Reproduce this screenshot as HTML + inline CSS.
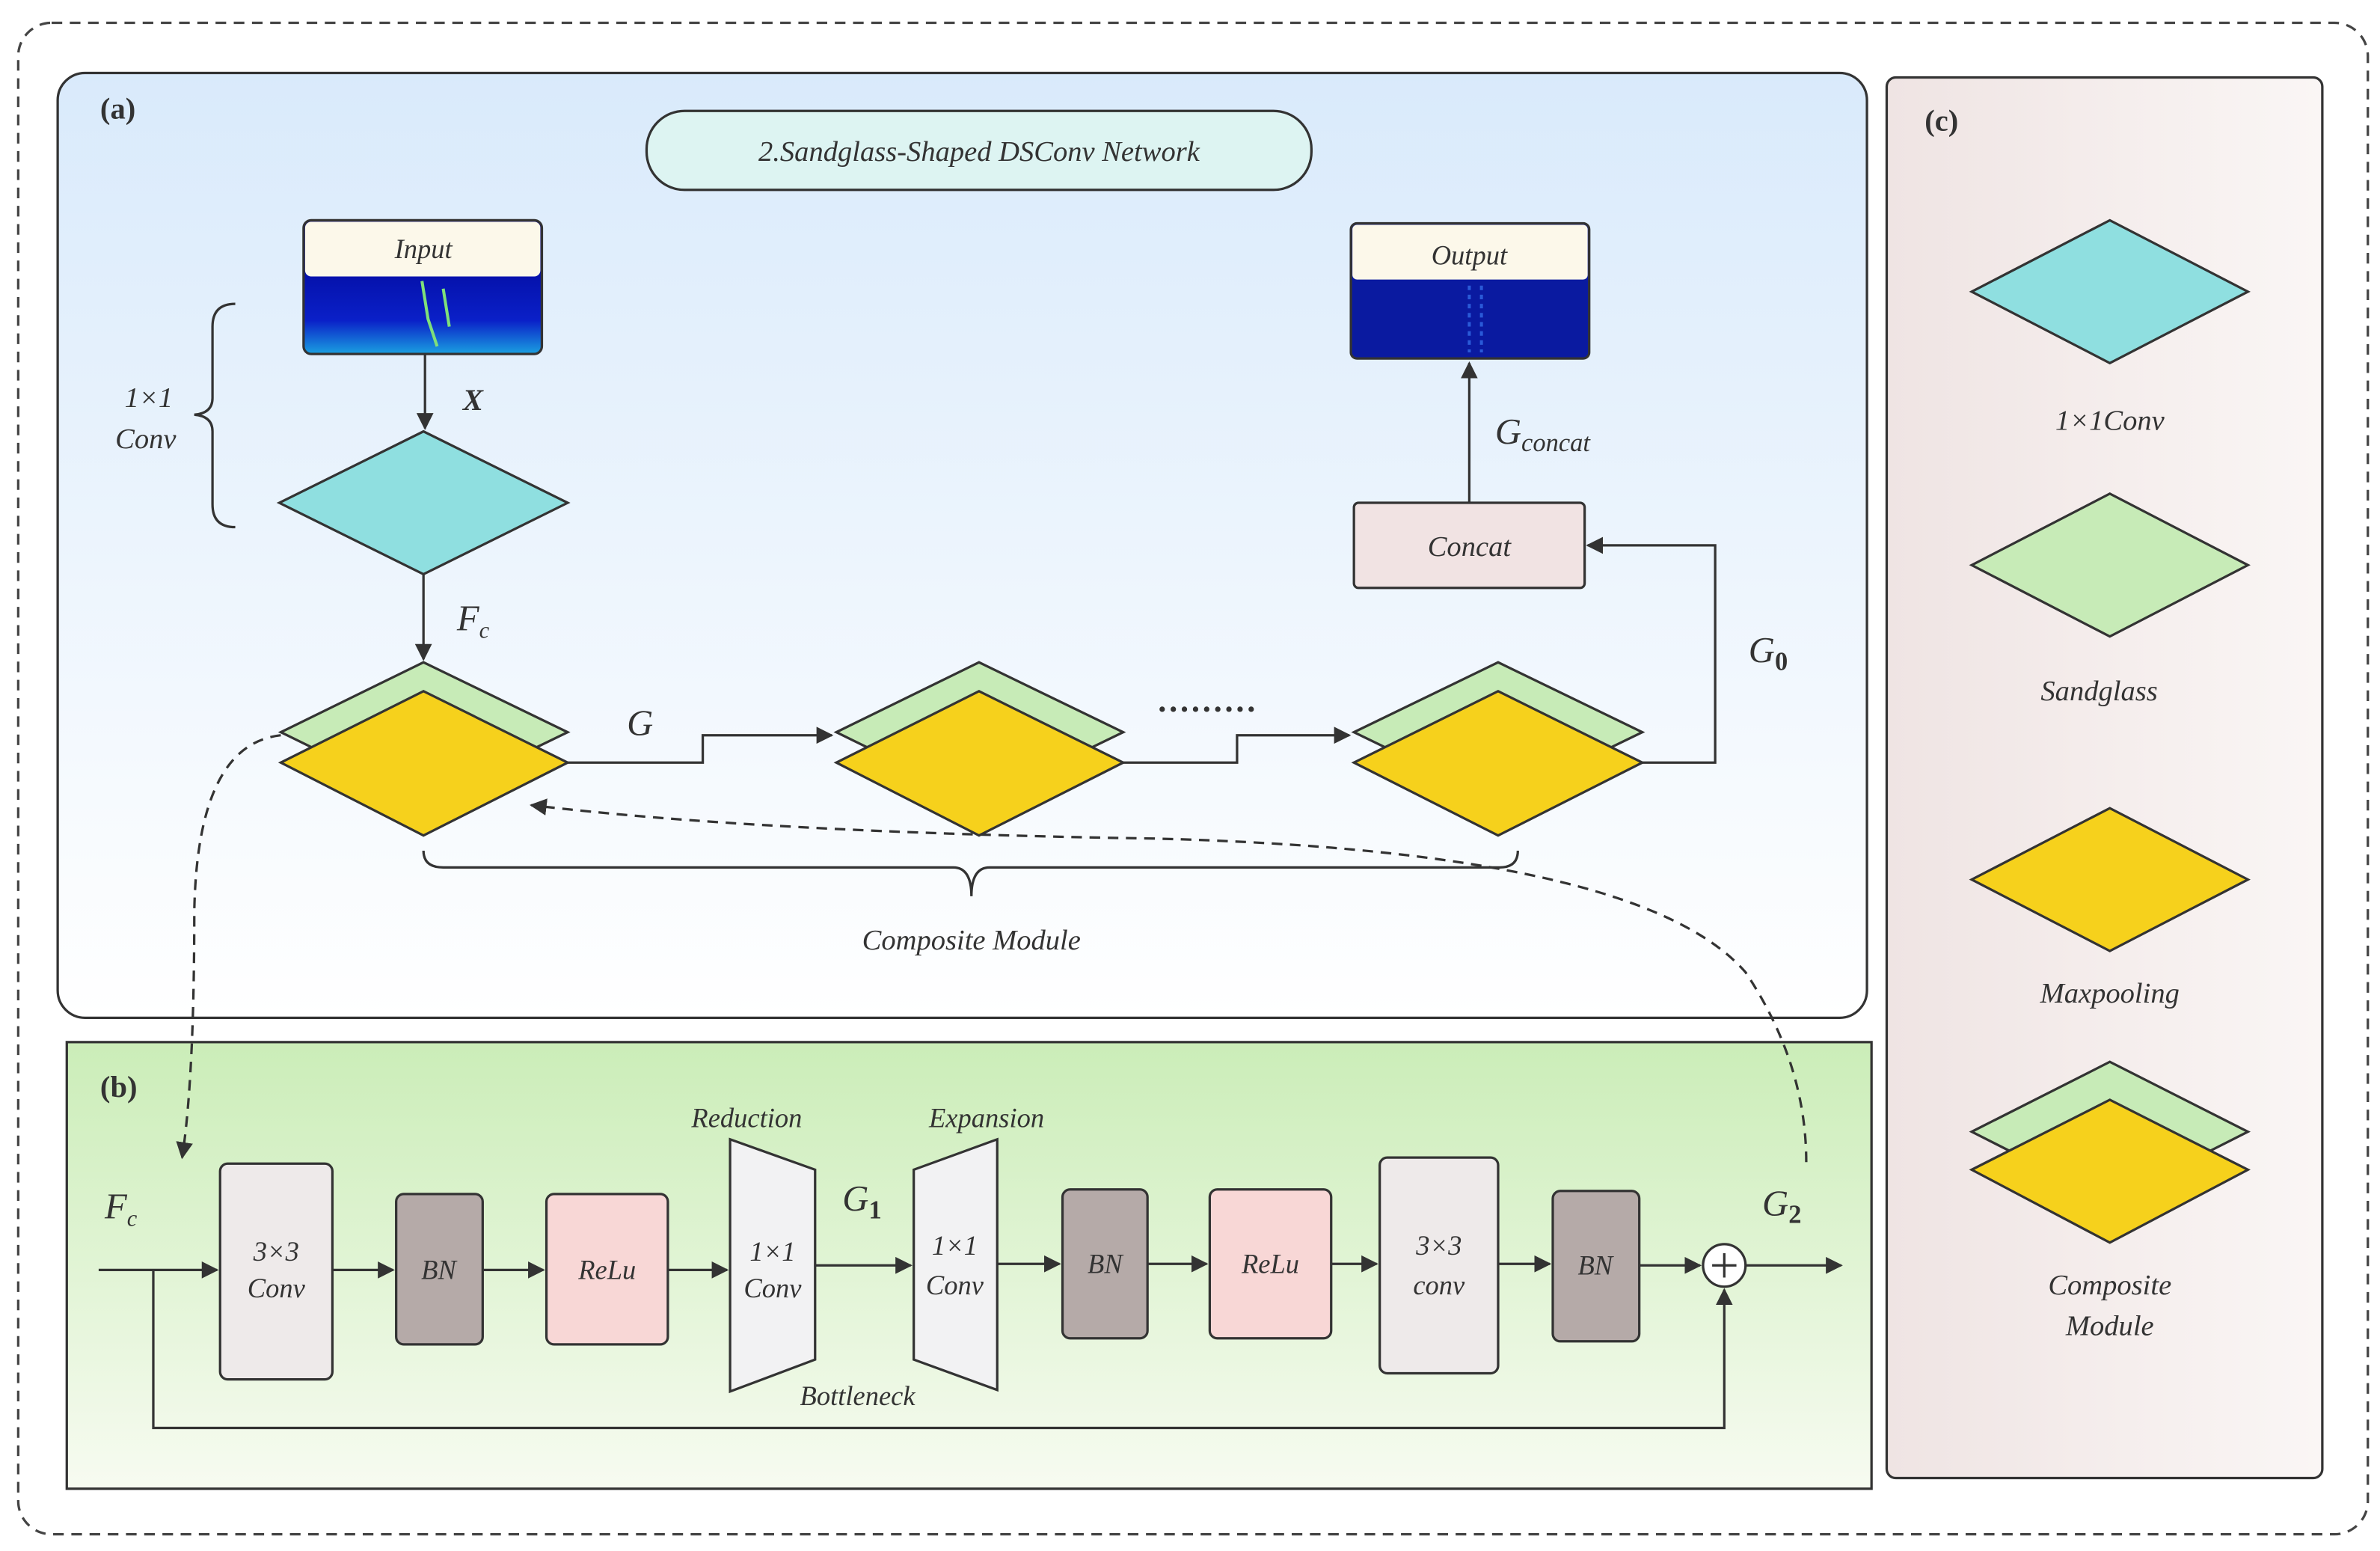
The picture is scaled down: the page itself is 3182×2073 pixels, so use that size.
<!DOCTYPE html>
<html><head><style>
html,body{margin:0;padding:0;background:#fff;}
svg{display:block;}
svg text, svg tspan{font-family:"Liberation Serif","DejaVu Serif",serif;font-style:italic;fill:#333;}
</style></head><body>
<svg width="3182" height="2073" viewBox="0 0 1568 1021" preserveAspectRatio="none" xmlns="http://www.w3.org/2000/svg" font-family="Liberation Serif, DejaVu Serif, serif">
<defs>
<linearGradient id="ga" x1="0" y1="0" x2="0" y2="1"><stop offset="0" stop-color="#d9eafb"/><stop offset="1" stop-color="#ffffff"/></linearGradient>
<linearGradient id="gb" x1="0" y1="0" x2="0" y2="1"><stop offset="0" stop-color="#cbedb8"/><stop offset="1" stop-color="#f7fbf1"/></linearGradient>
<linearGradient id="gc" x1="0" y1="0" x2="1" y2="0"><stop offset="0" stop-color="#efe4e3"/><stop offset="1" stop-color="#faf6f5"/></linearGradient>
<linearGradient id="spec" x1="0" y1="0" x2="0" y2="1"><stop offset="0" stop-color="#00008a"/><stop offset="0.75" stop-color="#0a20c8"/><stop offset="1" stop-color="#1aa0e0"/></linearGradient>
<marker id="ar" viewBox="0 0 10 10" refX="9" refY="5" markerWidth="7" markerHeight="7" orient="auto"><path d="M0,0 L10,5 L0,10 z" fill="#333"/></marker>
</defs>
<rect x="12" y="15" width="1548" height="995" rx="22" fill="#fff" stroke="#444" stroke-width="1.6" stroke-dasharray="7,5"/>
<rect x="38" y="48" width="1192" height="622" rx="18" fill="url(#ga)" stroke="#333" stroke-width="1.6"/>
<text x="66" y="78" font-size="20" style="font-style:normal;font-weight:bold">(a)</text>
<rect x="426" y="73" width="438" height="52" rx="25" fill="#ddf4f2" stroke="#333" stroke-width="1.6"/>
<text x="645" y="106" font-size="19" text-anchor="middle">2.Sandglass-Shaped DSConv Network</text>
<rect x="200" y="145" width="157" height="88" rx="5" fill="url(#spec)" stroke="#333" stroke-width="1.6"/>
<rect x="201" y="146" width="155" height="36" rx="4" fill="#fcf8ea"/>
<path d="M278,185 L282,210 L288,228 M292,190 L296,215" stroke="#7fe07a" stroke-width="2" fill="none"/>
<text x="279" y="170" font-size="18" text-anchor="middle">Input</text>
<rect x="890" y="147" width="157" height="89" rx="4" fill="#0a1aa0" stroke="#333" stroke-width="1.6"/>
<rect x="891" y="148" width="155" height="36" rx="3" fill="#fcf8ea"/>
<path d="M968,188 V232 M976,188 V232" stroke="#2a5ad8" stroke-width="2" stroke-dasharray="3,3"/>
<text x="968" y="174" font-size="18" text-anchor="middle">Output</text>
<path d="M155,200 Q140,200 140,215 L140,262 Q140,272 128,273 Q140,274 140,284 L140,332 Q140,347 155,347" fill="none" stroke="#333" stroke-width="1.6"/>
<text x="98" y="268" font-size="19" text-anchor="middle">1×1</text>
<text x="96" y="295" font-size="19" text-anchor="middle">Conv</text>
<line x1="280" y1="233" x2="280" y2="282" stroke="#333" stroke-width="1.6" marker-end="url(#ar)"/>
<text x="305" y="270" font-size="20" style="font-weight:bold">X</text>
<polygon points="184,331 279,284 374,331 279,378" fill="#8fdfe0" stroke="#333" stroke-width="1.6"/>
<line x1="279" y1="378" x2="279" y2="434" stroke="#333" stroke-width="1.6" marker-end="url(#ar)"/>
<text x="301" y="415" font-size="24">F<tspan font-size="15" dy="5">c</tspan></text>
<g stroke="#333" stroke-width="1.6">
<polygon points="185,482 279,436 374,482 279,528" fill="#c7ebb7"/>
<polygon points="185,502 279,455 374,502 279,550" fill="#f6d11c"/>
<polygon points="551,482 645,436 740,482 645,528" fill="#c7ebb7"/>
<polygon points="551,502 645,455 740,502 645,550" fill="#f6d11c"/>
<polygon points="892,482 987,436 1082,482 987,528" fill="#c7ebb7"/>
<polygon points="892,502 987,455 1082,502 987,550" fill="#f6d11c"/>
</g>
<polyline points="374,502 463,502 463,484 548,484" fill="none" stroke="#333" stroke-width="1.6" marker-end="url(#ar)"/>
<text x="413" y="484" font-size="24">G</text>
<text x="795" y="474" font-size="22" text-anchor="middle" style="font-style:normal;font-weight:bold">·········</text>
<polyline points="740,502 815,502 815,484 889,484" fill="none" stroke="#333" stroke-width="1.6" marker-end="url(#ar)"/>
<polyline points="1082,502 1130,502 1130,359 1046,359" fill="none" stroke="#333" stroke-width="1.6" marker-end="url(#ar)"/>
<text x="1152" y="436" font-size="24">G<tspan font-size="17" dy="5" style="font-style:normal;font-weight:bold">0</tspan></text>
<rect x="892" y="331" width="152" height="56" rx="3" fill="#f1e3e3" stroke="#333" stroke-width="1.6"/>
<text x="968" y="366" font-size="19" text-anchor="middle">Concat</text>
<line x1="968" y1="331" x2="968" y2="239" stroke="#333" stroke-width="1.6" marker-end="url(#ar)"/>
<text x="985" y="292" font-size="24">G<tspan font-size="17" dy="5">concat</tspan></text>
<path d="M279,560 Q279,571 292,571 L628,571 Q640,571 640,590 Q640,571 652,571 L988,571 Q1000,571 1000,560" fill="none" stroke="#333" stroke-width="1.6"/>
<text x="640" y="625" font-size="19" text-anchor="middle">Composite Module</text>
<rect x="44" y="686" width="1189" height="294" fill="url(#gb)" stroke="#333" stroke-width="1.6"/>
<text x="66" y="722" font-size="20" style="font-style:normal;font-weight:bold">(b)</text>
<rect x="1243" y="51" width="287" height="922" rx="6" fill="url(#gc)" stroke="#333" stroke-width="1.6"/>
<text x="1268" y="86" font-size="20" style="font-style:normal;font-weight:bold">(c)</text>
<path d="M185,484 Q130,490 128,600 Q128,710 120,762" fill="none" stroke="#333" stroke-width="1.6" stroke-dasharray="7,5" marker-end="url(#ar)"/>
<path d="M1190,765 Q1190,700 1150,640 Q1080,560 760,552 Q500,548 350,530" fill="none" stroke="#333" stroke-width="1.6" stroke-dasharray="7,5" marker-end="url(#ar)"/>
<text x="69" y="802" font-size="24">F<tspan font-size="15" dy="5">c</tspan></text>
<line x1="65" y1="836" x2="143" y2="836" stroke="#333" stroke-width="1.6" marker-end="url(#ar)"/>
<polyline points="101,836 101,940 1136,940 1136,849" fill="none" stroke="#333" stroke-width="1.6" marker-end="url(#ar)"/>
<g stroke="#333" stroke-width="1.6">
<rect x="145" y="766" width="74" height="142" rx="5" fill="#eeeaea"/>
<rect x="261" y="786" width="57" height="99" rx="5" fill="#b5aaa8"/>
<rect x="360" y="786" width="80" height="99" rx="5" fill="#f8d7d6"/>
<polygon points="481,750 537,770 537,895 481,916" fill="#f2f2f3"/>
<polygon points="602,770 657,750 657,915 602,895" fill="#f2f2f3"/>
<rect x="700" y="783" width="56" height="98" rx="5" fill="#b5aaa8"/>
<rect x="797" y="783" width="80" height="98" rx="5" fill="#f8d7d6"/>
<rect x="909" y="762" width="78" height="142" rx="5" fill="#eeeaea"/>
<rect x="1023" y="784" width="57" height="99" rx="5" fill="#b5aaa8"/>
</g>
<g stroke="#333" stroke-width="1.6" marker-end="url(#ar)">
<line x1="219" y1="836" x2="259" y2="836"/>
<line x1="318" y1="836" x2="358" y2="836"/>
<line x1="440" y1="836" x2="479" y2="836"/>
<line x1="537" y1="833" x2="600" y2="833"/>
<line x1="657" y1="832" x2="698" y2="832"/>
<line x1="756" y1="832" x2="795" y2="832"/>
<line x1="877" y1="832" x2="907" y2="832"/>
<line x1="987" y1="832" x2="1021" y2="832"/>
<line x1="1080" y1="833" x2="1120" y2="833"/>
<line x1="1150" y1="833" x2="1213" y2="833"/>
</g>
<circle cx="1136" cy="833" r="14" fill="#fff" stroke="#333" stroke-width="1.6"/>
<path d="M1128,833 H1144 M1136,825 V841" stroke="#333" stroke-width="1.6"/>
<g font-size="18" text-anchor="middle">
<text x="182" y="830">3×3</text><text x="182" y="854">Conv</text>
<text x="289" y="842">BN</text>
<text x="400" y="842">ReLu</text>
<text x="509" y="830">1×1</text><text x="509" y="854">Conv</text>
<text x="629" y="826">1×1</text><text x="629" y="852">Conv</text>
<text x="728" y="838">BN</text>
<text x="837" y="838">ReLu</text>
<text x="948" y="826">3×3</text><text x="948" y="852">conv</text>
<text x="1051" y="839">BN</text>
<text x="492" y="742">Reduction</text>
<text x="650" y="742">Expansion</text>
<text x="565" y="925">Bottleneck</text>
</g>
<text x="555" y="797" font-size="24">G<tspan font-size="17" dy="5" style="font-style:normal;font-weight:bold">1</tspan></text>
<text x="1161" y="800" font-size="24">G<tspan font-size="17" dy="5" style="font-style:normal;font-weight:bold">2</tspan></text>
<g stroke="#333" stroke-width="1.6">
<polygon points="1299,192 1390,145 1481,192 1390,239" fill="#8fdfe0"/>
<polygon points="1299,372 1390,325 1481,372 1390,419" fill="#c7ebb7"/>
<polygon points="1299,579 1390,532 1481,579 1390,626" fill="#f6d11c"/>
<polygon points="1299,745 1390,699 1481,745 1390,791" fill="#c7ebb7"/>
<polygon points="1299,770 1390,724 1481,770 1390,818" fill="#f6d11c"/>
</g>
<g font-size="19" text-anchor="middle">
<text x="1390" y="283">1×1Conv</text>
<text x="1383" y="461">Sandglass</text>
<text x="1390" y="660">Maxpooling</text>
<text x="1390" y="852">Composite</text>
<text x="1390" y="879">Module</text>
</g>
</svg>
</body></html>
